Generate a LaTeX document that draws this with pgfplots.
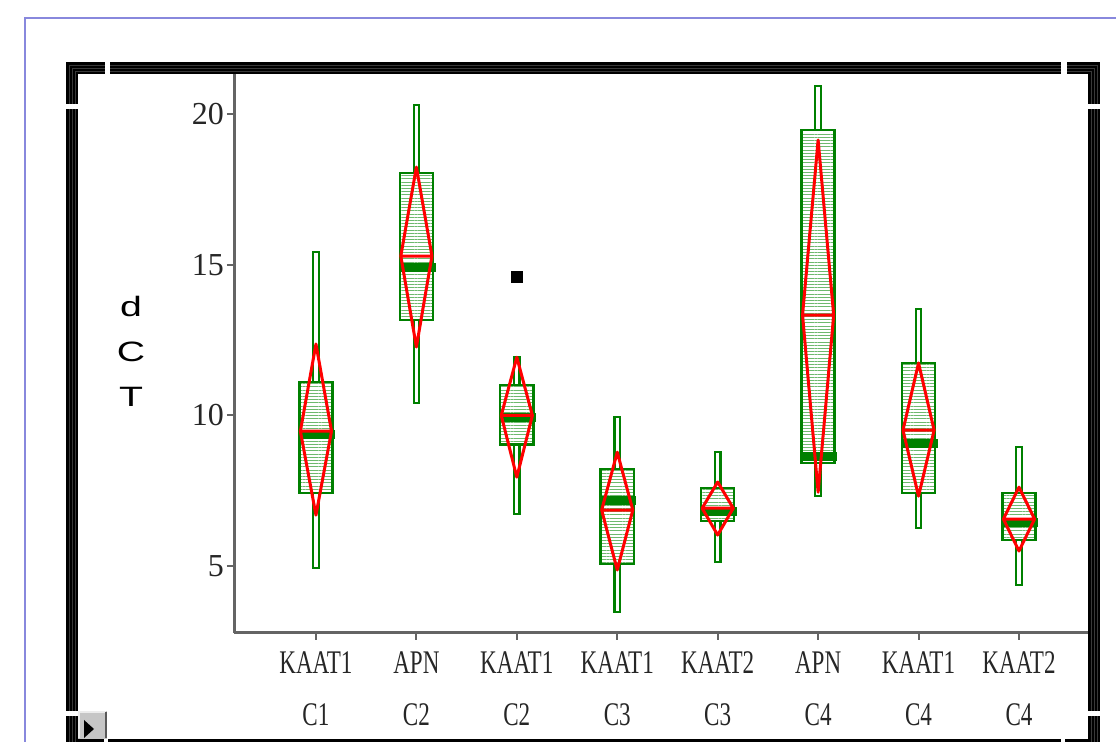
\documentclass[border=0pt]{standalone}
\usepackage{fontspec}
\setmainfont{Liberation Serif}
\newfontfamily\condserif[FakeStretch=0.7]{Liberation Serif}
\newfontfamily\widesans[FakeStretch=1.4]{Liberation Sans}
\usepackage{pgfplots}
\pgfplotsset{compat=1.18}
\usepgfplotslibrary{statistics}
\usetikzlibrary{patterns.meta}

\definecolor{jgreen}{RGB}{0,128,0}
\definecolor{jred}{RGB}{255,0,0}
\definecolor{hatch}{RGB}{110,185,110}
\definecolor{axgray}{RGB}{100,100,100}
\definecolor{bord}{RGB}{136,136,221}

% JMP style box: narrow hollow whiskers, hatched box, thick median bar
\pgfplotsset{
  jmpbox/.style={
    jgreen,
    boxplot/draw direction=y,
    boxplot/box extend=0.33,
    boxplot/whisker extend=0.055,
    boxplot/draw/lower whisker/.code={
      \draw[jgreen, line width=1.1pt, fill=white]
        (boxplot whisker cs:\pgfplotsboxplotvalue{lower whisker},0) rectangle
        (boxplot whisker cs:\pgfplotsboxplotvalue{lower quartile},1);
    },
    boxplot/draw/upper whisker/.code={
      \draw[jgreen, line width=1.1pt, fill=white]
        (boxplot whisker cs:\pgfplotsboxplotvalue{upper quartile},0) rectangle
        (boxplot whisker cs:\pgfplotsboxplotvalue{upper whisker},1);
    },
    boxplot/draw/box/.code={
      \draw[jgreen, line width=1.2pt,
            pattern={Lines[angle=0,distance=1.6pt,line width=0.4pt]}, pattern color=hatch]
        (boxplot box cs:\pgfplotsboxplotvalue{lower quartile},0) rectangle
        (boxplot box cs:\pgfplotsboxplotvalue{upper quartile},1);
    },
    boxplot/draw/median/.code={
      \draw[jgreen, line width=4.5pt]
        (boxplot box cs:\pgfplotsboxplotvalue{median},0) --
        (boxplot box cs:\pgfplotsboxplotvalue{median},1.08);
    },
  },
  diamond/.style={jred, line width=1.5pt, line join=round, line cap=round},
}

\begin{document}
\begin{tikzpicture}
\useasboundingbox (0,0) rectangle (558pt,371pt);
\clip (0,0) rectangle (558pt,371pt);

% window frame (pixel units of the reference)
\begin{scope}[x=0.5pt, y=-0.5pt, shift={(0,371pt)}]
  \draw[bord, line width=1pt] (25,18) rectangle (1140,770);
  \draw[black, line width=6pt] (72,68) rectangle (1094,745);
  \foreach \o in {3,6,9} {
    \draw[gray!45!black, line width=0.2pt] (66+\o,62+\o) rectangle (1100-\o,751-\o);
  }
  \fill[white] (105,62) rectangle (110,74);
  \fill[white] (1061,62) rectangle (1067,74);
  \fill[white] (66,104) rectangle (78,109);
  \fill[white] (1088,104) rectangle (1100,109);
  \fill[white] (66,711) rectangle (78,716);
  \fill[white] (1088,711) rectangle (1100,716);
  \fill[white] (104,739) rectangle (108,742);
  \fill[white] (1061,739) rectangle (1065,742);
  \fill[white] (78,74) rectangle (1088,739);
  \fill[gray!45] (78,711) rectangle (107,739);
  \draw[gray!15, line width=1pt] (79,738) -- (79,712) -- (106,712);
  \draw[gray!70!black, line width=1pt] (106,712) -- (106,738);
  \fill[black] (84,720) -- (94,729) -- (84,738) -- cycle;
\end{scope}

\begin{axis}[
    at={(117pt,54.5pt)}, anchor=south west,
    scale only axis, width=427pt, height=279.5pt,
    xmin=0.184, xmax=8.687,
    ymin=2.78, ymax=21.33,
    axis x line*=bottom, axis y line*=left,
    axis line style={draw=axgray, line width=1.5pt, -},
    tick align=outside, major tick length=3.5pt,
    tick style={draw=axgray, line width=1pt},
    xtick={1,2,3,4,5,6,7,8},
    xticklabels={{KAAT1\\C1},{APN\\C2},{KAAT1\\C2},{KAAT1\\C3},
                 {KAAT2\\C3},{APN\\C4},{KAAT1\\C4},{KAAT2\\C4}},
    x tick label style={align=center, font=\condserif\fontsize{16.5}{26}\selectfont,
                        text=black!85, yshift=-2.5pt},
    ytick={5,10,15,20},
    y tick label style={font=\fontsize{16}{16}\selectfont, text=black!85, xshift=2pt},
    /pgf/number format/assume math mode=true,
    ylabel={d\\C\\T},
    ylabel style={rotate=-90, align=center, anchor=center,
                  at={(rel axis cs:-0.1206,0.503)},
                  font=\widesans\fontsize{14}{22.5}\selectfont},
]

% boxes: C1 KAAT1, C2 APN, C2 KAAT1, C3 KAAT1, C3 KAAT2, C4 APN, C4 KAAT1, C4 KAAT2
\addplot[jmpbox, boxplot prepared={draw position=1, lower whisker=4.93,
  lower quartile=7.42, median=9.38, upper quartile=11.10, upper whisker=15.42}] coordinates {};
\addplot[jmpbox, boxplot prepared={draw position=2, lower whisker=10.40,
  lower quartile=13.16, median=14.91, upper quartile=18.04, upper whisker=20.30}] coordinates {};
\addplot[jmpbox, boxplot prepared={draw position=3, lower whisker=6.72,
  lower quartile=9.03, median=9.93, upper quartile=11.00, upper whisker=11.93}] coordinates {};
\addplot[jmpbox, boxplot prepared={draw position=4, lower whisker=3.48,
  lower quartile=5.06, median=7.19, upper quartile=8.22, upper whisker=9.94}] coordinates {};
\addplot[jmpbox, boxplot prepared={draw position=5, lower whisker=5.13,
  lower quartile=6.49, median=6.82, upper quartile=7.59, upper whisker=8.78}] coordinates {};
\addplot[jmpbox, boxplot prepared={draw position=6, lower whisker=7.32,
  lower quartile=8.42, median=8.65, upper quartile=19.47, upper whisker=20.93}] coordinates {};
\addplot[jmpbox, boxplot prepared={draw position=7, lower whisker=6.26,
  lower quartile=7.42, median=9.08, upper quartile=11.74, upper whisker=13.53}] coordinates {};
\addplot[jmpbox, boxplot prepared={draw position=8, lower whisker=4.37,
  lower quartile=5.86, median=6.46, upper quartile=7.42, upper whisker=8.95}] coordinates {};

% outlier
\addplot[only marks, mark=square*, mark size=2.75pt, black] coordinates {(3,14.6)};

% mean diamonds (mean, upper and lower confidence limits)
\addplot[diamond] coordinates {(0.845,9.48) (1,12.37) (1.155,9.48) (1,6.69) (0.845,9.48) (1.155,9.48)};
\addplot[diamond] coordinates {(1.845,15.29) (2,18.24) (2.155,15.29) (2,12.27) (1.845,15.29) (2.155,15.29)};
\addplot[diamond] coordinates {(2.845,10.00) (3,11.93) (3.155,10.00) (3,7.95) (2.845,10.00) (3.155,10.00)};
\addplot[diamond] coordinates {(3.845,6.86) (4,8.78) (4.155,6.86) (4,4.87) (3.845,6.86) (4.155,6.86)};
\addplot[diamond] coordinates {(4.845,6.92) (5,7.79) (5.155,6.92) (5,6.03) (4.845,6.92) (5.155,6.92)};
\addplot[diamond] coordinates {(5.845,13.33) (6,19.14) (6.155,13.33) (6,7.45) (5.845,13.33) (6.155,13.33)};
\addplot[diamond] coordinates {(6.845,9.51) (7,11.74) (7.155,9.51) (7,7.32) (6.845,9.51) (7.155,9.51)};
\addplot[diamond] coordinates {(7.845,6.56) (8,7.62) (8.155,6.56) (8,5.50) (7.845,6.56) (8.155,6.56)};

\end{axis}
\end{tikzpicture}
\end{document}
